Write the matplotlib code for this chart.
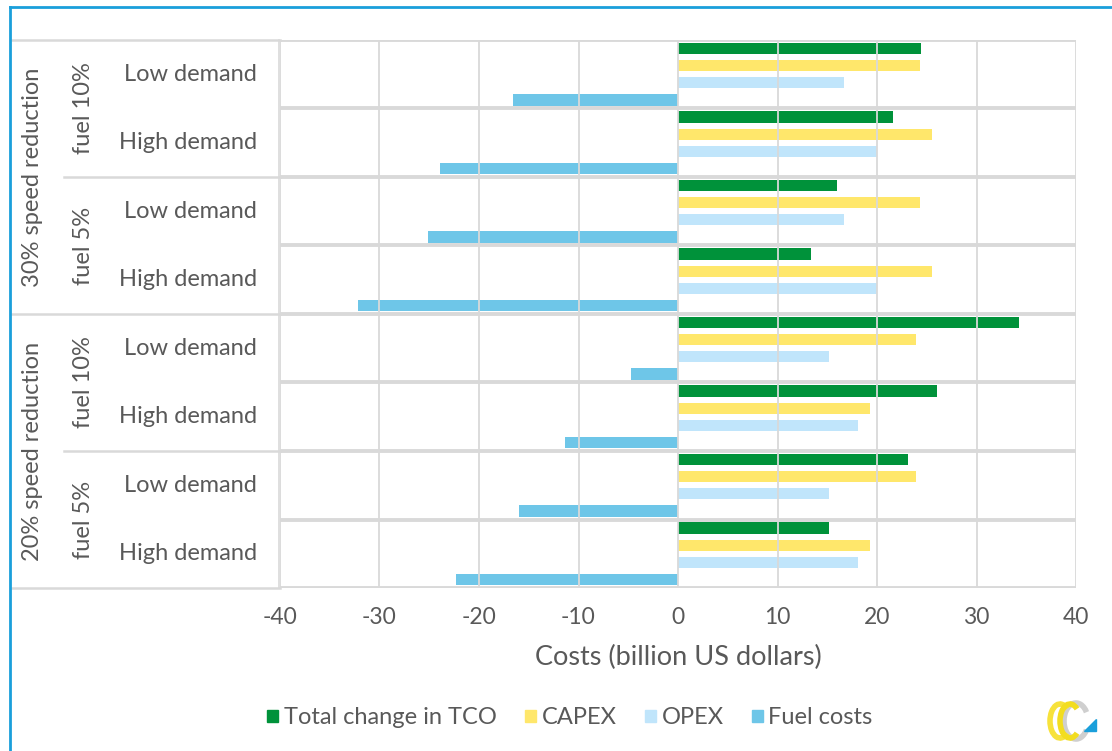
import matplotlib.pyplot as plt
import matplotlib.transforms as mtrans
from matplotlib.patches import Patch, Arc, Polygon
from matplotlib.lines import Line2D
import numpy as np

plt.rcParams['font.family'] = ['Lato', 'DejaVu Sans']
plt.rcParams['axes.unicode_minus'] = False

# rows top to bottom
demand = ["Low demand", "High demand"] * 4
fuel = ["fuel 10%", "fuel 5%", "fuel 10%", "fuel 5%"]
speed = ["30% speed reduction", "20% speed reduction"]

tco = [24.4, 21.6, 16.0, 13.4, 34.3, 26.0, 23.1, 15.2]
capex = [24.3, 25.5, 24.3, 25.5, 23.9, 19.3, 23.9, 19.3]
opex = [16.7, 20.0, 16.7, 20.0, 15.2, 18.1, 15.2, 18.1]
fuel_costs = [-16.6, -23.9, -25.1, -32.2, -4.7, -11.4, -16.0, -22.3]

series = [("Total change in TCO", tco, "#00923a"),
          ("CAPEX", capex, "#ffe76b"),
          ("OPEX", opex, "#c0e5fb"),
          ("Fuel costs", fuel_costs, "#6ec6e8")]

W, H = 1112, 751
fig = plt.figure(figsize=(W / 100, H / 100), dpi=100)
ax = fig.add_axes([280 / W, 1 - 588 / H, (1076 - 280) / W, (588 - 40) / H])

grid_c = "#d9d9d9"
txt_c = "#595959"

rows = np.arange(len(demand)) + 0.5
offsets = [-0.375, -0.125, 0.125, 0.375]
for (name, vals, col), off in zip(series, offsets):
    ax.barh(rows + off, vals, height=0.165, color=col, zorder=1)

ax.set_xlim(-40, 40)
ax.set_ylim(8, 0)
ax.set_xticks(np.arange(-40, 41, 10))
for x in np.arange(-40, 41, 10):
    ax.axvline(x, color=grid_c, lw=1.3, zorder=3)
for y in range(9):
    ax.axhline(y, color=grid_c, lw=2.8, zorder=4)
for s in ax.spines.values():
    s.set_visible(False)
ax.set_yticks([])
ax.tick_params(axis="x", length=0, pad=14, labelsize=16.5, labelcolor=txt_c)
ax.set_xlabel("Costs (billion US dollars)", fontsize=19.5, color=txt_c, labelpad=12)

# multi-level category labels
tr = mtrans.blended_transform_factory(fig.transFigure, ax.transData)
for r, lab in zip(rows, demand):
    ax.text(257 / W, r, lab, transform=tr, ha="right", va="center",
            fontsize=17, color=txt_c)
for i, lab in enumerate(fuel):
    ax.text(84 / W, 2 * i + 1, lab, transform=tr, ha="center", va="center",
            rotation=90, fontsize=17, color=txt_c)
for i, lab in enumerate(speed):
    ax.text(33 / W, 4 * i + 2, lab, transform=tr, ha="center", va="center",
            rotation=90, fontsize=17, color=txt_c)

# separators in the label area
seps = {0: 12, 2: 64, 4: 12, 6: 64, 8: 12}
for y, x0 in seps.items():
    fig.add_artist(Line2D([x0 / W, 280 / W], [y, y], transform=tr,
                          color=grid_c, lw=1.8))
fig.add_artist(Line2D([279 / W, 279 / W], [0, 8], transform=tr,
                      color=grid_c, lw=1.2))

# legend
handles = [Patch(color=c, label=n) for n, v, c in series]
fig.legend(handles=handles, loc="center", bbox_to_anchor=(570 / W, 1 - 718 / H),
           ncol=4, frameon=False, fontsize=17, labelcolor=txt_c,
           handlelength=0.45, handleheight=0.45, handletextpad=0.25,
           columnspacing=1.2)

# blue frame
blue = "#1a9fdb"
fig.add_artist(Line2D([10 / W, 1], [1 - 7 / H, 1 - 7 / H], color=blue, lw=2))
fig.add_artist(Line2D([10 / W, 10 / W], [0, 1 - 7 / H], color=blue, lw=2))

# small logo
lax = fig.add_axes([1040 / W, 1 - 745 / H, 65 / W, 50 / H])
lax.set_xlim(0, 65)
lax.set_ylim(0, 50)
lax.set_aspect("equal")
lax.axis("off")
lax.add_patch(Arc((36, 24), 24, 36, theta1=40, theta2=320, color="#cfcfcf", lw=4))
lax.add_patch(Arc((20, 24), 20, 34, theta1=60, theta2=300, color="#f7e23b", lw=4))
lax.add_patch(Arc((30, 24), 20, 34, theta1=60, theta2=300, color="#f2dd20", lw=4))
lax.add_patch(Polygon([[44, 14], [56, 14], [56, 26]], color="#1a9fdb"))

fig.savefig("out.png", dpi=100)
